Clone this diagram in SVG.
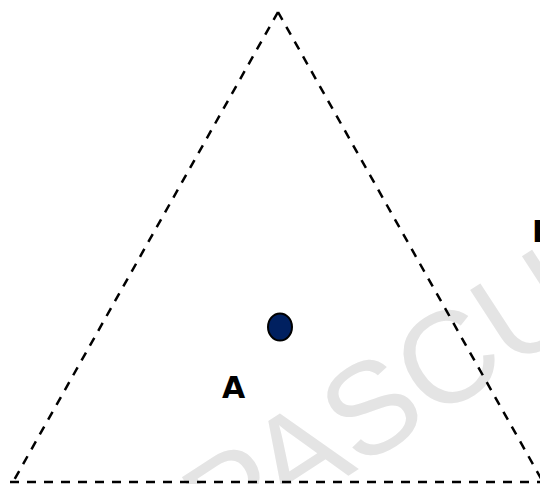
<svg xmlns="http://www.w3.org/2000/svg" width="540" height="484" viewBox="0 0 540 484">
  <style>
    .wm { font-family: "Liberation Sans", Arial, sans-serif; font-size: 130px; fill: #e4e4e4; }
    .lbl { font-family: "DejaVu Sans", Verdana, sans-serif; font-weight: bold; font-size: 30px; fill: #000; }
    .edge { fill: none; stroke: #000; stroke-width: 2.5; stroke-dasharray: 9 8; }
  </style>
  <rect width="540" height="484" fill="#fff"/>
  <text class="wm" transform="translate(221.7,558) rotate(-33)">PASCU</text>
  <g id="connectors">
    <line class="edge" x1="278" y1="12" x2="13" y2="482"/>
    <line class="edge" x1="278" y1="12" x2="543" y2="482"/>
    <line class="edge" x1="10" y1="482" x2="543" y2="482"/>
  </g>
  <g id="dot">
    <ellipse cx="280" cy="327" rx="12" ry="13.5" fill="#002060" stroke="#000" stroke-width="2"/>
  </g>
  <g id="label-A">
    <text class="lbl" x="222" y="398">A</text>
  </g>
  <g id="label-B">
    <text class="lbl" x="532" y="242">B</text>
  </g>
</svg>
